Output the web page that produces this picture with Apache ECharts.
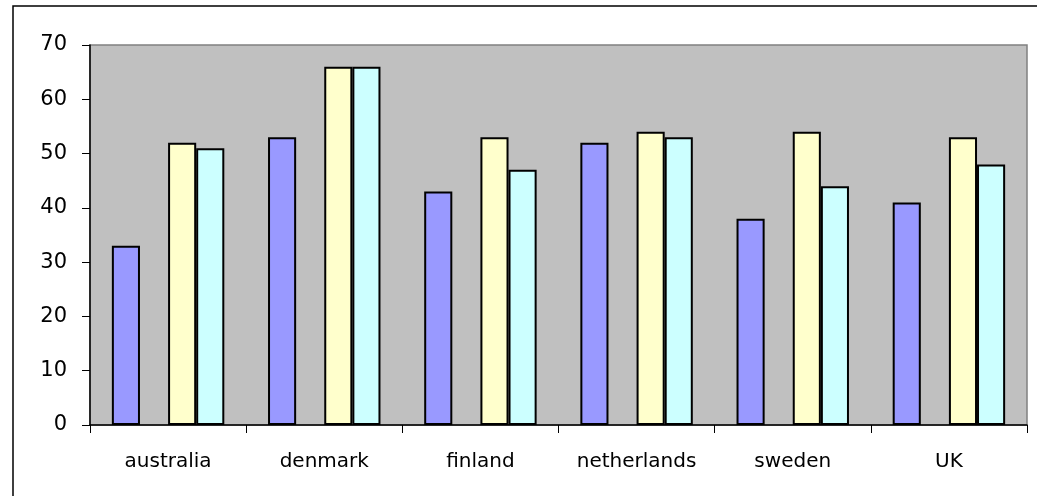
<!DOCTYPE html>
<html>
<head>
<meta charset="utf-8">
<title>chart</title>
<script src="https://cdn.jsdelivr.net/npm/echarts@6/dist/echarts.min.js"></script>
<style>
  html, body { margin: 0; padding: 0; background: #fff; }
  #main { width: 1037px; height: 496px; }
</style>
</head>
<body>
<div id="main"></div>
<script>
// data
var countries = ['australia', 'denmark', 'finland', 'netherlands', 'sweden', 'UK'];
var series1 = [33, 53, 43, 52, 38, 41];
var series2 = [null, null, null, null, null, null]; // empty slot between the first and third bars
var series3 = [52, 66, 53, 54, 54, 53];
var series4 = [51, 66, 47, 53, 44, 48];

var chart = echarts.init(document.getElementById('main'));

var font = '"DejaVu Sans", "Liberation Sans", Arial, sans-serif';

function bar(name, data, color) {
    return {
        name: name,
        type: 'bar',
        data: data,
        barGap: '0%',
        barCategoryGap: '28%',
        itemStyle: {
            color: color,
            borderColor: '#000',
            borderWidth: 2
        },
        emphasis: { disabled: true }
    };
}

var option = {
    animation: false,
    graphic: [{
        type: 'rect',
        shape: { x: 13, y: 6, width: 1030, height: 500 },
        style: { fill: 'none', stroke: '#000', lineWidth: 1.5 },
        z: -1
    }],
    grid: {
        left: 90,
        top: 45,
        right: 10,
        bottom: 71,
        show: true,
        backgroundColor: '#C0C0C0',
        borderColor: '#808080',
        borderWidth: 1.5
    },
    xAxis: {
        type: 'category',
        data: countries,
        axisLine: { lineStyle: { color: '#000', width: 1.5 } },
        axisTick: { show: true, length: 8, lineStyle: { color: '#000' } },
        axisLabel: {
            color: '#000',
            fontFamily: font,
            fontSize: 20,
            margin: 27
        }
    },
    yAxis: {
        type: 'value',
        min: 0,
        max: 70,
        interval: 10,
        splitLine: { show: false },
        axisLine: { show: true, lineStyle: { color: '#000', width: 1.5 } },
        axisTick: { show: true, length: 8, lineStyle: { color: '#000' } },
        axisLabel: {
            color: '#000',
            fontFamily: font,
            fontSize: 21,
            margin: 23
        }
    },
    series: [
        bar('Series1', series1, '#9999FF'),
        bar('Series2', series2, '#993366'),
        bar('Series3', series3, '#FFFFCC'),
        bar('Series4', series4, '#CCFFFF')
    ]
};

chart.setOption(option);
</script>
</body>
</html>
